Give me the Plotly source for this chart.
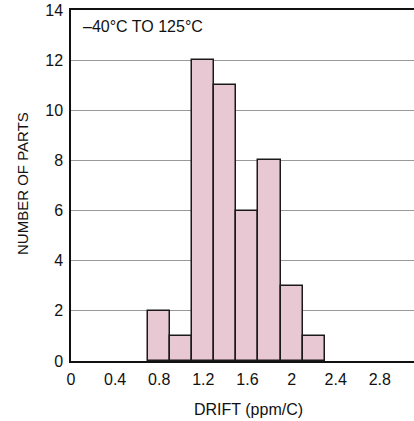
import plotly.graph_objects as go

bin_left = [0.7, 0.9, 1.1, 1.3, 1.5, 1.7, 1.9, 2.1]
counts = [2, 1, 12, 11, 6, 8, 3, 1]
bin_width = 0.2
x_ticks = [0, 0.4, 0.8, 1.2, 1.6, 2.0, 2.4, 2.8]
x_tick_labels = ["0", "0.4", "0.8", "1.2", "1.6", "2", "2.4", "2.8"]
y_ticks = [0, 2, 4, 6, 8, 10, 12, 14]

FONT = "Liberation Sans, Arial, sans-serif"

W, H = 414, 421
L, R, T, B = 71, 0, 10, 60
pw = W - L - R
ph = H - T - B

fig = go.Figure()
fig.add_trace(go.Bar(
    x=[b + bin_width / 2 for b in bin_left],
    y=counts,
    width=bin_width,
    marker=dict(color="#e8c9d3", line=dict(color="#1a1a1a", width=1.5)),
    showlegend=False,
))

fig.update_layout(
    width=W, height=H,
    margin=dict(l=L, r=R, t=T, b=B),
    paper_bgcolor="white", plot_bgcolor="white",
    font=dict(family=FONT, size=16, color="#111"),
    bargap=0,
    xaxis=dict(range=[0, 3.11], tickvals=x_ticks, ticktext=x_tick_labels,
               showgrid=False, showline=True, linecolor="#111", linewidth=1.5,
               mirror=True, ticks="", zeroline=False, ticklabelstandoff=3,
               tickfont=dict(size=16)),
    yaxis=dict(range=[0, 14], tickvals=y_ticks, showgrid=True, gridcolor="#999",
               gridwidth=1, showline=True, linecolor="#111", linewidth=1.5,
               ticks="", zeroline=False, ticklabelstandoff=3,
               tickfont=dict(size=16)),
    annotations=[
        dict(text="\u201340\u00b0C TO 125\u00b0C", xref="paper", yref="paper",
             x=(81 - L) / pw, y=(H - B - 27) / ph,
             xanchor="left", yanchor="middle", showarrow=False, font=dict(size=16)),
        dict(text="DRIFT (ppm/C)", xref="paper", yref="paper",
             x=(248 - L) / pw, y=(H - B - 409) / ph,
             xanchor="center", yanchor="middle", showarrow=False, font=dict(size=16)),
        dict(text="NUMBER OF PARTS", textangle=-90, xref="paper", yref="paper",
             x=(22 - L) / pw, y=(H - B - 184) / ph,
             xanchor="center", yanchor="middle", showarrow=False, font=dict(size=15)),
    ],
)

fig.write_html("out.html", config={"displayModeBar": False},
               post_script="document.body.style.margin='0';")
